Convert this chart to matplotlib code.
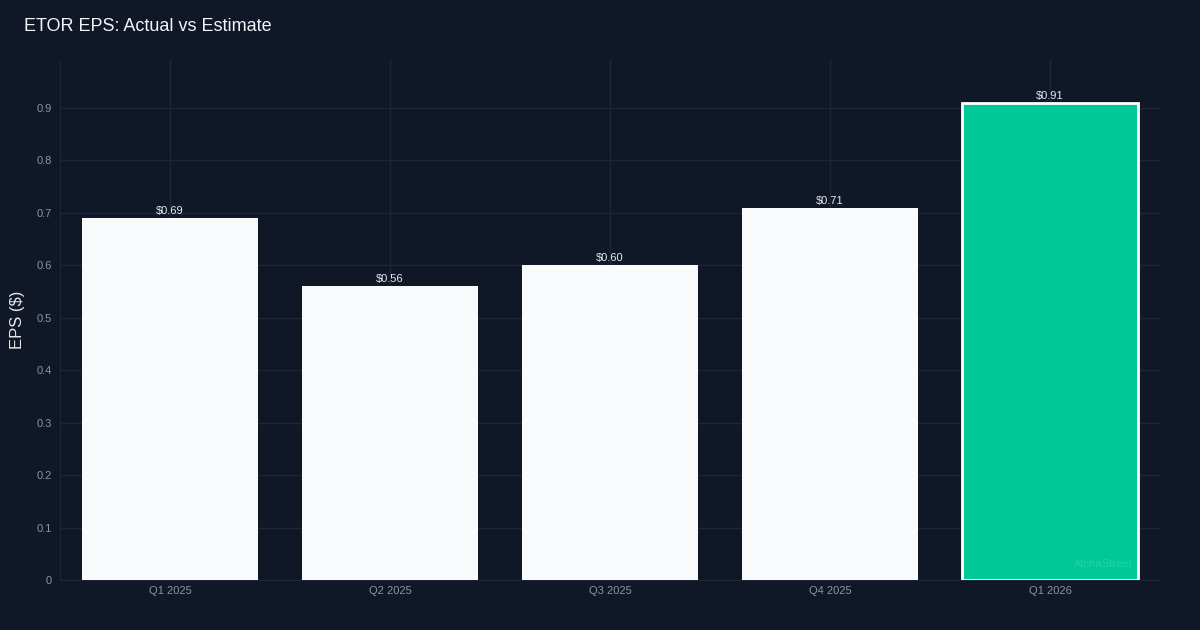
import matplotlib.pyplot as plt

quarters = ['Q1 2025', 'Q2 2025', 'Q3 2025', 'Q4 2025', 'Q1 2026']
eps = [0.69, 0.56, 0.60, 0.71, 0.91]
bar_colors = ['#f8fafc', '#f8fafc', '#f8fafc', '#f8fafc', '#00c896']
yticks = [0, 0.1, 0.2, 0.3, 0.4, 0.5, 0.6, 0.7, 0.8, 0.9]

bg = '#101828'
grid = '#1c2638'
tick_col = '#8b95a5'

plt.rcParams['font.family'] = ['Liberation Sans', 'DejaVu Sans']

fig = plt.figure(figsize=(12, 6.3), dpi=100, facecolor=bg)
ax = fig.add_axes([0.05, 0.0794, 0.9167, 0.8254], facecolor=bg)

x = range(len(quarters))
bars = ax.bar(x, eps, width=0.8, color=bar_colors, zorder=3)
bars[-1].set_edgecolor('#ffffff')
bars[-1].set_linewidth(2)

for xi, v in zip(x, eps):
    ax.text(xi, v + 0.004, f'${v:.2f}', ha='center', va='bottom',
            fontsize=8, color='#e5e7eb', zorder=4)

ax.set_xlim(-0.5, 4.5)
ax.set_ylim(0, 0.9916)
ax.set_xticks(list(x))
ax.set_xticklabels(quarters)
ax.set_yticks(yticks)
ax.set_yticklabels(['0'] + [f'{t:.1f}' for t in yticks[1:]])
ax.tick_params(axis='y', colors=tick_col, labelsize=8, length=0, pad=6)
ax.tick_params(axis='x', colors=tick_col, labelsize=8, length=0, pad=4)
ax.grid(True, color=grid, linewidth=1, zorder=0)

for side in ['top', 'right']:
    ax.spines[side].set_visible(False)
ax.spines['left'].set_color(grid)
ax.spines['bottom'].set_color(grid)

ax.set_ylabel('EPS ($)', fontsize=12, color='#e5e7eb', labelpad=8)
fig.text(0.02, 0.958, 'ETOR EPS: Actual vs Estimate', fontsize=13,
         color='#f1f5f9', ha='left', va='center')
ax.text(0.975, 0.022, 'AlphaStreet', transform=ax.transAxes, ha='right',
        va='bottom', fontsize=8, color='#ffffff', alpha=0.15, zorder=5)

fig.savefig('out.png', dpi=100, facecolor=bg)
